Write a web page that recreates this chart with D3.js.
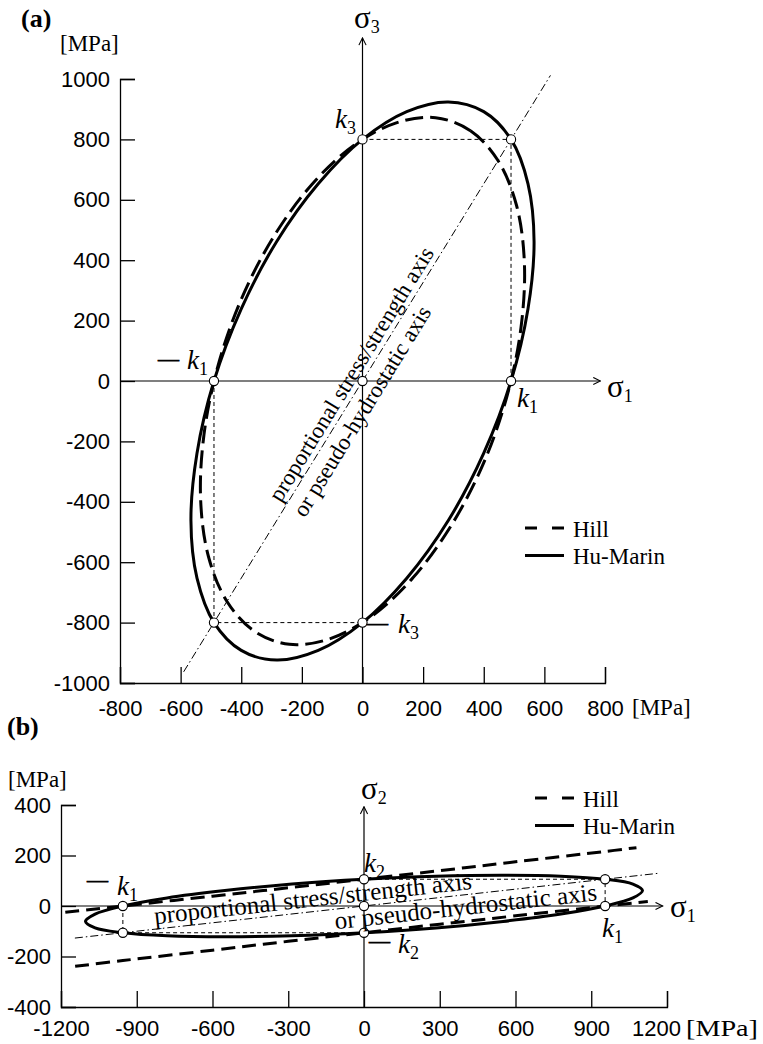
<!DOCTYPE html>
<html>
<head>
<meta charset="utf-8">
<script src="https://cdn.jsdelivr.net/npm/d3@7"></script>
<style>
body{margin:0;background:#fff;}
svg{display:block;}
</style>
</head>
<body>
<div id="chartDiv"></div>
<script>
// tick values (MPa)
const ticksAx = [-800,-600,-400,-200,0,200,400,600,800];
const ticksAy = [-1000,-800,-600,-400,-200,0,200,400,600,800,1000];
const ticksBx = [-1200,-900,-600,-300,0,300,600,900,1200];
const ticksBy = [-400,-200,0,200,400];

const seriesNames = ["Hill","Hu-Marin"];

// strengths k1, k3 (a) and k1, k2 (b)
const strengthA = [490, 800];
const strengthB = [955, 106];

// (a) sigma1 - sigma3 plane
const huMarinA = [[490,800],[400,892],[283,924],[146,892],[0,800],[-146,653],[-283,462],[-400,239],
  [-490,0],[-546,-239],[-566,-462],[-546,-653],[-490,-800],[-400,-892],[-283,-924],[-146,-892],
  [0,-800],[146,-653],[283,-462],[400,-239],[490,0],[546,239],[566,462],[546,653]];
const hillA = [[447,730],[356,829],[241,872],[109,854],[-30,779],[-167,651],[-293,478],[-399,273],
  [-477,49],[-523,-178],[-534,-393],[-508,-582],[-447,-730],[-356,-829],[-241,-872],[-109,-854],
  [30,-779],[167,-651],[293,-478],[399,-273],[477,-49],[523,178],[534,393],[508,582]];

// (b) sigma1 - sigma2 plane
const huMarinB = [[955,106],[780,118],[551,122],[285,118],[0,106],[-285,87],[-551,61],[-780,32],
  [-955,0],[-1065,-32],[-1103,-61],[-1065,-87],[-955,-106],[-780,-118],[-551,-122],[-285,-118],
  [0,-106],[285,-87],[551,-61],[780,-32],[955,0],[1065,32],[1103,61],[1065,87]];
const hillBUpper = [[-1183,-25],[-955,0],[-600,39],[-300,72],[0,106],[300,140],[600,175],[955,216],[1079,231]];
const hillBLower = [[-1144,-239],[-955,-216],[-600,-175],[-300,-140],[0,-106],[300,-72],[600,-39],[955,0],[1124,18]];

// proportional stress / strength axis
const propAxisA = [[-590,-963],[620,1012]];
const propAxisB = [[-1145,-127],[1170,130]];
const propText = ["proportional stress/strength axis","or pseudo-hydrostatic axis"];

const SANS = "'Liberation Sans', Arial, sans-serif";
const SERIF = "'Liberation Serif', 'Times New Roman', serif";

const svg = d3.select('#chartDiv').append('svg')
  .attr('width', 763).attr('height', 1044)
  .style('background', '#fff');

svg.append('defs').append('marker')
  .attr('id', 'arr')
  .attr('viewBox', '0 0 10 10')
  .attr('refX', 9).attr('refY', 5)
  .attr('markerWidth', 9).attr('markerHeight', 9)
  .attr('markerUnits', 'userSpaceOnUse')
  .attr('orient', 'auto')
  .append('path')
  .attr('d', 'M1,1 L9,5 L1,9')
  .attr('fill', 'none').attr('stroke', '#000').attr('stroke-width', 1.2);

function kLabel(g, px, py, sub, dash, dashX, dashY) {
  if (dash) {
    g.append('text').attr('x', dashX).attr('y', dashY)
      .attr('font-family', SERIF).attr('font-size', 21)
      .attr('stroke', '#000').attr('stroke-width', 0.7)
      .text('\u2014');
  }
  const t = g.append('text').attr('x', px).attr('y', py)
    .attr('font-family', SERIF).attr('font-size', 27).attr('font-style', 'italic').text('k');
  t.append('tspan').attr('font-style', 'normal').attr('font-size', 18).attr('dy', 6).text(sub);
}

function sigmaLabel(g, px, py, sub) {
  const t = g.append('text').attr('x', px).attr('y', py)
    .attr('font-family', SERIF).attr('font-size', 31).text('\u03c3');
  t.append('tspan').attr('font-size', 18).attr('dy', 5).text(sub);
}

function drawPanel(p) {
  const g = svg.append('g');
  const x = p.x, y = p.y;

  // left axis, ticks pointing inward
  const ya = g.append('g')
    .attr('transform', `translate(${x.range()[0]},0)`)
    .call(d3.axisLeft(y).tickValues(p.yTicks).tickSize(-15).tickPadding(p.yPad).tickFormat(d => String(d)));
  // bottom axis
  const xa = g.append('g')
    .attr('transform', `translate(0,${y.range()[0]})`)
    .call(d3.axisBottom(x).tickValues(p.xTicks).tickSize(-16).tickPadding(p.xPad).tickFormat(d => String(d)));
  [ya, xa].forEach(a => {
    a.attr('font-family', SANS).attr('font-size', 22);
    a.selectAll('text').attr('fill', '#000');
    a.selectAll('path,line').attr('stroke', '#000').attr('stroke-width', 1.3);
  });
  return {g, xa, ya};
}

function drawContent(g, p) {
  const x = p.x, y = p.y;
  const k1 = p.k[0], k2 = p.k[1];
  const line = d3.line().x(d => x(d[0])).y(d => y(d[1]));

  // sigma axes with arrows
  g.append('line').attr('x1', x.range()[0]).attr('x2', x(p.hTip))
    .attr('y1', y(0)).attr('y2', y(0))
    .attr('stroke', '#000').attr('stroke-width', 1.2).attr('marker-end', 'url(#arr)');
  g.append('line').attr('x1', x(0)).attr('x2', x(0))
    .attr('y1', y.range()[0]).attr('y2', y(p.vTip))
    .attr('stroke', '#000').attr('stroke-width', 1.2).attr('marker-end', 'url(#arr)');

  // proportional axis (dash-dot)
  g.append('path').attr('d', line(p.prop))
    .attr('fill', 'none').attr('stroke', '#000').attr('stroke-width', 1)
    .attr('stroke-dasharray', '8,3,1.5,3');

  // thin dashed guides
  const guides = [[[0,k2],[k1,k2],[k1,0]], [[-k1,0],[-k1,-k2],[0,-k2]]];
  g.selectAll('path.guide').data(guides).enter().append('path')
    .attr('class', 'guide')
    .attr('d', line)
    .attr('fill', 'none').attr('stroke', '#000').attr('stroke-width', 1)
    .attr('stroke-dasharray', '4,3');

  // Hill (dashed)
  const hillLine = d3.line().x(d => x(d[0])).y(d => y(d[1]))
    .curve(p.hillClosed ? d3.curveCatmullRomClosed : d3.curveCatmullRom);
  g.selectAll('path.hill').data(p.hill).enter().append('path')
    .attr('class', 'hill')
    .attr('d', hillLine)
    .attr('fill', 'none').attr('stroke', '#000').attr('stroke-width', 3)
    .attr('stroke-dasharray', p.hillDash);

  // Hu-Marin (solid)
  g.append('path')
    .attr('d', d3.line().x(d => x(d[0])).y(d => y(d[1])).curve(d3.curveCatmullRomClosed)(p.hu))
    .attr('fill', 'none').attr('stroke', '#000').attr('stroke-width', 3);

  // open circles at strength points
  const pts = [[0,k2],[k1,k2],[-k1,0],[0,0],[k1,0],[-k1,-k2],[0,-k2]];
  g.selectAll('circle.pt').data(pts).enter().append('circle')
    .attr('class', 'pt')
    .attr('cx', d => x(d[0])).attr('cy', d => y(d[1])).attr('r', 4.6)
    .attr('fill', '#fff').attr('stroke', '#000').attr('stroke-width', 1.1);

  // rotated axis text
  const ang = Math.atan2(y(k2) - y(0), x(k1) - x(0)) * 180 / Math.PI;
  const tg = g.append('g').attr('transform', `translate(${x(0)},${y(0)}) rotate(${ang})`);
  tg.selectAll('text').data(propText).enter().append('text')
    .attr('x', (d, i) => p.textPos[i][0]).attr('y', (d, i) => p.textPos[i][1])
    .attr('text-anchor', 'middle')
    .attr('font-family', SERIF).attr('font-size', p.textSize)
    .text(d => d);

  // legend
  const lg = g.append('g').attr('transform', `translate(${p.legend[0]},${p.legend[1]})`);
  seriesNames.forEach((name, i) => {
    lg.append('line').attr('x1', 0).attr('x2', 39).attr('y1', i * 27.5).attr('y2', i * 27.5)
      .attr('stroke', '#000').attr('stroke-width', 3)
      .attr('stroke-dasharray', i === 0 ? '12,15' : null);
    lg.append('text').attr('x', 48).attr('y', i * 27.5 + 8.5)
      .attr('font-family', SERIF).attr('font-size', 23).text(name);
  });
}

// ---------- panel (a) ----------
const pA = {
  x: d3.scaleLinear().domain([-800, 800]).range([120, 605]),
  y: d3.scaleLinear().domain([-1000, 1000]).range([683, 79]),
  xTicks: ticksAx, yTicks: ticksAy, xPad: 17, yPad: 10,
  k: strengthA, hu: huMarinA, hill: [hillA], hillClosed: true, hillDash: '18,7',
  prop: propAxisA, hTip: 785, vTip: 1136,
  textPos: [[0, -5.5], [-26, 23]], textSize: 23,
  legend: [525, 528]
};
const a = drawPanel(pA);
drawContent(a.g, pA);
kLabel(a.g, 335, 128, '3', false);
kLabel(a.g, 187, 369, '1', true, 158, 366);
kLabel(a.g, 517, 407, '1', false);
kLabel(a.g, 398, 633, '3', true, 367, 630);
sigmaLabel(a.g, 354, 28, '3');
sigmaLabel(a.g, 607, 397, '1');

svg.append('text').attr('x', 21).attr('y', 27)
  .attr('font-family', SERIF).attr('font-weight', 'bold').attr('font-size', 26).text('(a)');
svg.append('text').attr('x', 60).attr('y', 51)
  .attr('font-family', SERIF).attr('font-size', 23).text('[MPa]');
svg.append('text').attr('x', 632).attr('y', 715)
  .attr('font-family', SERIF).attr('font-size', 23).text('[MPa]');

// ---------- panel (b) ----------
const pB = {
  x: d3.scaleLinear().domain([-1200, 1200]).range([61, 667]),
  y: d3.scaleLinear().domain([-400, 400]).range([1007, 805]),
  xTicks: ticksBx, yTicks: ticksBy, xPad: 13, yPad: 10,
  k: strengthB, hu: huMarinB, hill: [hillBUpper, hillBLower], hillClosed: false, hillDash: '14,7',
  prop: propAxisB, hTip: 1183, vTip: 393,
  textPos: [[-50, -5], [101, 20]], textSize: 25,
  legend: [535, 798]
};
const b = drawPanel(pB);
drawContent(b.g, pB);
b.xa.selectAll('.tick').filter(d => d === 1200).select('text').attr('x', -11);
kLabel(b.g, 364, 872, '2', false);
kLabel(b.g, 117, 895, '1', true, 87, 887);
kLabel(b.g, 602, 937, '1', false);
kLabel(b.g, 398, 953, '2', true, 369, 948);
sigmaLabel(b.g, 361, 799, '2');
sigmaLabel(b.g, 670, 917, '1');

svg.append('text').attr('x', 7).attr('y', 735)
  .attr('font-family', SERIF).attr('font-weight', 'bold').attr('font-size', 26).text('(b)');
svg.append('text').attr('x', 8).attr('y', 787)
  .attr('font-family', SERIF).attr('font-size', 23).text('[MPa]');
svg.append('text').attr('x', 686).attr('y', 1036)
  .attr('font-family', SERIF).attr('font-size', 23)
  .attr('textLength', 72).attr('lengthAdjust', 'spacingAndGlyphs').text('[MPa]');
</script>
</body>
</html>
